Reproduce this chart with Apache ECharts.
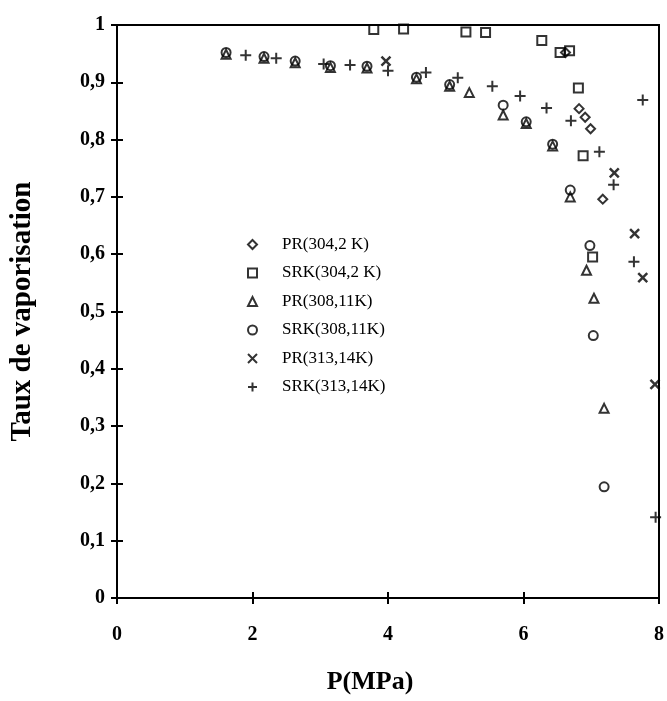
<!DOCTYPE html>
<html><head><meta charset="utf-8">
<script src="https://cdn.jsdelivr.net/npm/echarts@6/dist/echarts.min.js"></script>
<style>html,body{margin:0;padding:0;background:#fff}#c{width:667px;height:701px}</style>
</head><body><div id="c"></div>
<script>
// ---- data (P in MPa, vaporisation ratio) ----
const seriesNames = ['PR(304,2 K)', 'SRK(304,2 K)', 'PR(308,11K)', 'SRK(308,11K)', 'PR(313,14K)', 'SRK(313,14K)'];
const xTicks = [0, 2, 4, 6, 8];
const yTickLabels = ['0', '0,1', '0,2', '0,3', '0,4', '0,5', '0,6', '0,7', '0,8', '0,9', '1'];

const pr304 = [[6.62,0.952],[6.82,0.854],[6.91,0.839],[6.99,0.819],[7.17,0.696]];
const srk304 = [[3.79,0.992],[4.23,0.993],[5.15,0.988],[5.44,0.987],[6.27,0.973],[6.54,0.952],[6.68,0.955],[6.81,0.890],[6.88,0.772],[7.02,0.595]];
const pr308 = [[1.61,0.949],[2.17,0.942],[2.63,0.934],[3.15,0.926],[3.69,0.925],[4.42,0.906],[4.91,0.893],[5.20,0.882],[5.70,0.843],[6.04,0.828],[6.43,0.789],[6.69,0.700],[6.93,0.572],[7.04,0.523],[7.19,0.331]];
const srk308 = [[1.61,0.952],[2.17,0.945],[2.63,0.937],[3.15,0.929],[3.69,0.928],[4.42,0.909],[4.91,0.896],[5.70,0.860],[6.04,0.831],[6.43,0.792],[6.69,0.712],[6.98,0.615],[7.03,0.458],[7.19,0.194]];
const pr313 = [[3.97,0.937],[7.34,0.742],[7.64,0.636],[7.76,0.559],[7.94,0.373]];
const srk313 = [[1.90,0.947],[2.35,0.942],[3.05,0.932],[3.44,0.930],[4.00,0.920],[4.56,0.917],[5.03,0.908],[5.54,0.893],[5.95,0.876],[6.34,0.855],[6.70,0.833],[7.12,0.779],[7.33,0.721],[7.63,0.587],[7.76,0.869],[7.95,0.141]];

// ---- chart ----
const font = 'Liberation Serif, Times New Roman, serif';
const hollow = {color: 'rgba(0,0,0,0)', borderColor: '#000', borderWidth: 2};
const xPath = 'path://M0,0L10,10M10,0L0,10';
const plusPath = 'path://M5,0L5,10M0,5L10,5';
function mk(name, data, symbol, size, bw) {
  return {name, type: 'scatter', data, symbol, symbolSize: size,
    itemStyle: Object.assign({}, hollow, {borderWidth: bw || 2}), xAxisIndex: 0, yAxisIndex: 0};
}
const chart = echarts.init(document.getElementById('c'), null, {renderer: 'canvas'});
const axisLbl = {color: '#000', fontFamily: font, fontWeight: 'bold', fontSize: 20};
chart.setOption({
  animation: false,
  backgroundColor: '#fff',
  grid: {left: 117, top: 25, width: 547, height: 573, show: true, borderColor: '#000', borderWidth: 2, containLabel: false},
  legend: {
    orient: 'vertical', left: 242, top: 231, itemWidth: 9, itemHeight: 9, itemGap: 11.5,
    data: seriesNames,
    itemStyle: {borderWidth: 2},
    textStyle: {fontFamily: font, fontSize: 17, color: '#000', padding: [0, 0, 0, 20]}
  },
  xAxis: [
    {type: 'value', min: 0, max: 8, interval: 2, position: 'bottom',
     axisLine: {show: true, lineStyle: {color: '#000', width: 2}},
     axisTick: {show: true, inside: false, length: 6, lineStyle: {color: '#000', width: 2}},
     axisLabel: Object.assign({margin: 27, formatter: v => String(xTicks[xTicks.indexOf(v)])}, axisLbl),
     splitLine: {show: false},
     name: 'P(MPa)', nameLocation: 'middle', nameGap: 71,
     nameTextStyle: {color: '#000', fontFamily: font, fontWeight: 'bold', fontSize: 26, padding: [0, 36, 0, 0]}},
    {type: 'value', min: 0, max: 8, interval: 2, position: 'bottom',
     axisLine: {show: false}, axisTick: {show: true, inside: true, length: 6, lineStyle: {color: '#000', width: 2}},
     axisLabel: {show: false}, splitLine: {show: false}}
  ],
  yAxis: [
    {type: 'value', min: 0, max: 1, interval: 0.1, position: 'left',
     axisLine: {show: true, lineStyle: {color: '#000', width: 2}},
     axisTick: {show: true, inside: false, length: 6, lineStyle: {color: '#000', width: 2}},
     axisLabel: Object.assign({margin: 12, formatter: v => yTickLabels[Math.round(v * 10)]}, axisLbl),
     splitLine: {show: false},
     name: 'Taux de vaporisation', nameLocation: 'middle', nameGap: 80,
     nameTextStyle: {color: '#000', fontFamily: font, fontWeight: 'bold', fontSize: 29}},
    {type: 'value', min: 0, max: 1, interval: 0.1, position: 'left',
     axisLine: {show: false}, axisTick: {show: true, inside: true, length: 6, lineStyle: {color: '#000', width: 2}},
     axisLabel: {show: false}, splitLine: {show: false}}
  ],
  series: [
    mk(seriesNames[0], pr304, 'diamond', 9),
    mk(seriesNames[1], srk304, 'rect', 9),
    mk(seriesNames[2], pr308, 'triangle', 9),
    mk(seriesNames[3], srk308, 'circle', 9),
    mk(seriesNames[4], pr313, xPath, 9, 2.5),
    mk(seriesNames[5], srk313, plusPath, 11, 2)
  ]
});
</script></body></html>
